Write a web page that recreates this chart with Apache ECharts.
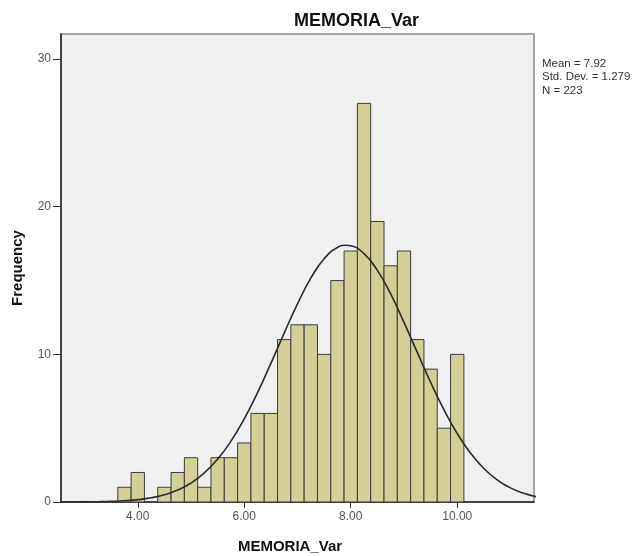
<!DOCTYPE html>
<html>
<head>
<meta charset="utf-8">
<script src="https://cdn.jsdelivr.net/npm/echarts@6/dist/echarts.min.js"></script>
<style>
  html, body { margin: 0; padding: 0; background: #ffffff; }
  #chart { width: 639px; height: 556px; }
</style>
</head>
<body>
<div id="chart"></div>
<script>
// ---- data ----
const binCenters = [3.75, 4.0, 4.25, 4.5, 4.75, 5.0, 5.25, 5.5, 5.75, 6.0, 6.25, 6.5, 6.75,
                    7.0, 7.25, 7.5, 7.75, 8.0, 8.25, 8.5, 8.75, 9.0, 9.25, 9.5, 9.75, 10.0];
const binCounts  = [1, 2, 0, 1, 2, 3, 1, 3, 3, 4, 6, 6, 11,
                    12, 12, 10, 15, 17, 27, 19, 16, 17, 11, 9, 5, 10];
const binWidth = 0.25;

// normal curve (Mean = 7.92, SD = 1.279, N = 223), values read at 0.25 steps
const curveX = [2.5, 2.75, 3.0, 3.25, 3.5, 3.75, 4.0, 4.25, 4.5, 4.75, 5.0, 5.25, 5.5, 5.75,
                6.0, 6.25, 6.5, 6.75, 7.0, 7.25, 7.5, 7.75, 7.92, 8.0, 8.25, 8.5, 8.75, 9.0,
                9.25, 9.5, 9.75, 10.0, 10.25, 10.5, 10.75, 11.0, 11.25, 11.5];
const curveY = [0.002, 0.005, 0.011, 0.022, 0.044, 0.086, 0.159, 0.283, 0.487, 0.806, 1.284, 1.968, 2.904, 4.124,
                5.636, 7.415, 9.389, 11.44, 13.42, 15.16, 16.48, 17.24, 17.39, 17.36, 16.82, 15.69, 14.09, 12.17,
                10.13, 8.109, 6.249, 4.635, 3.309, 2.273, 1.504, 0.958, 0.587, 0.346];

const xTickValues = [4, 6, 8, 10];
const yTickValues = [0, 10, 20, 30];
const statsLines = ['Mean = 7.92', 'Std. Dev. = 1.279', 'N = 223'];
const titleText = 'MEMORIA_Var';
const xName = 'MEMORIA_Var';
const yName = 'Frequency';

// ---- chart ----
const chart = echarts.init(document.getElementById('chart'), null, { renderer: 'canvas' });
const FONT = '"Liberation Sans", Arial, sans-serif';

const histData = binCenters.map((c, i) => [c, binCounts[i]]);
const curveData = curveX.map((x, i) => [x, curveY[i]]);

chart.setOption({
  backgroundColor: '#ffffff',
  animation: false,
  title: {
    text: titleText,
    left: 289,
    top: 7,
    textStyle: { fontFamily: FONT, fontSize: 18, fontWeight: 'bold', color: '#111' }
  },
  grid: {
    left: 61, right: 105, top: 34, bottom: 54,
    show: true,
    backgroundColor: '#f0f0f0',
    borderColor: '#8a8a8a',
    borderWidth: 1.5
  },
  xAxis: {
    type: 'value',
    min: 2.558,
    max: 11.442,
    axisLine: { show: true, onZero: false, lineStyle: { color: '#222', width: 1.5 } },
    axisTick: { show: true, customValues: xTickValues, length: 6, lineStyle: { color: '#333' } },
    axisLabel: {
      customValues: xTickValues,
      formatter: v => v.toFixed(2),
      color: '#555', fontFamily: FONT, fontSize: 12, margin: 9
    },
    splitLine: { show: false }
  },
  yAxis: {
    type: 'value',
    min: 0,
    max: 31.7,
    axisLine: { show: true, lineStyle: { color: '#222', width: 1.5 } },
    axisTick: { show: true, customValues: yTickValues, length: 8, lineStyle: { color: '#333' } },
    axisLabel: {
      customValues: yTickValues,
      color: '#555', fontFamily: FONT, fontSize: 12, margin: 10
    },
    splitLine: { show: false }
  },
  graphic: [
    {
      type: 'text',
      left: 542, top: 57,
      style: {
        text: statsLines.join('\n'),
        fontFamily: FONT, fontSize: 11.5, lineHeight: 13.5, fill: '#333'
      }
    },
    {
      type: 'text',
      x: 290, y: 547,
      style: {
        text: xName, align: 'center', verticalAlign: 'middle',
        fontFamily: FONT, fontSize: 15, fontWeight: 'bold', fill: '#111'
      }
    },
    {
      type: 'text',
      x: 18, y: 268,
      rotation: Math.PI / 2,
      style: {
        text: yName, align: 'center', verticalAlign: 'middle',
        fontFamily: FONT, fontSize: 15, fontWeight: 'bold', fill: '#111'
      }
    }
  ],
  series: [
    {
      type: 'custom',
      data: histData,
      renderItem: function (params, api) {
        const c = api.value(0), n = api.value(1);
        if (!n) return null;
        const p0 = api.coord([c - binWidth / 2, n]);
        const p1 = api.coord([c + binWidth / 2, 0]);
        return {
          type: 'rect',
          shape: { x: p0[0], y: p0[1], width: p1[0] - p0[0], height: p1[1] - p0[1] },
          style: { fill: '#d3cf97', stroke: '#3a3a3a', lineWidth: 1 }
        };
      },
      z: 2
    },
    {
      type: 'line',
      data: curveData,
      smooth: true,
      showSymbol: false,
      clip: true,
      lineStyle: { color: '#2a2a2a', width: 1.6 },
      z: 3
    }
  ]
});
</script>
</body>
</html>
